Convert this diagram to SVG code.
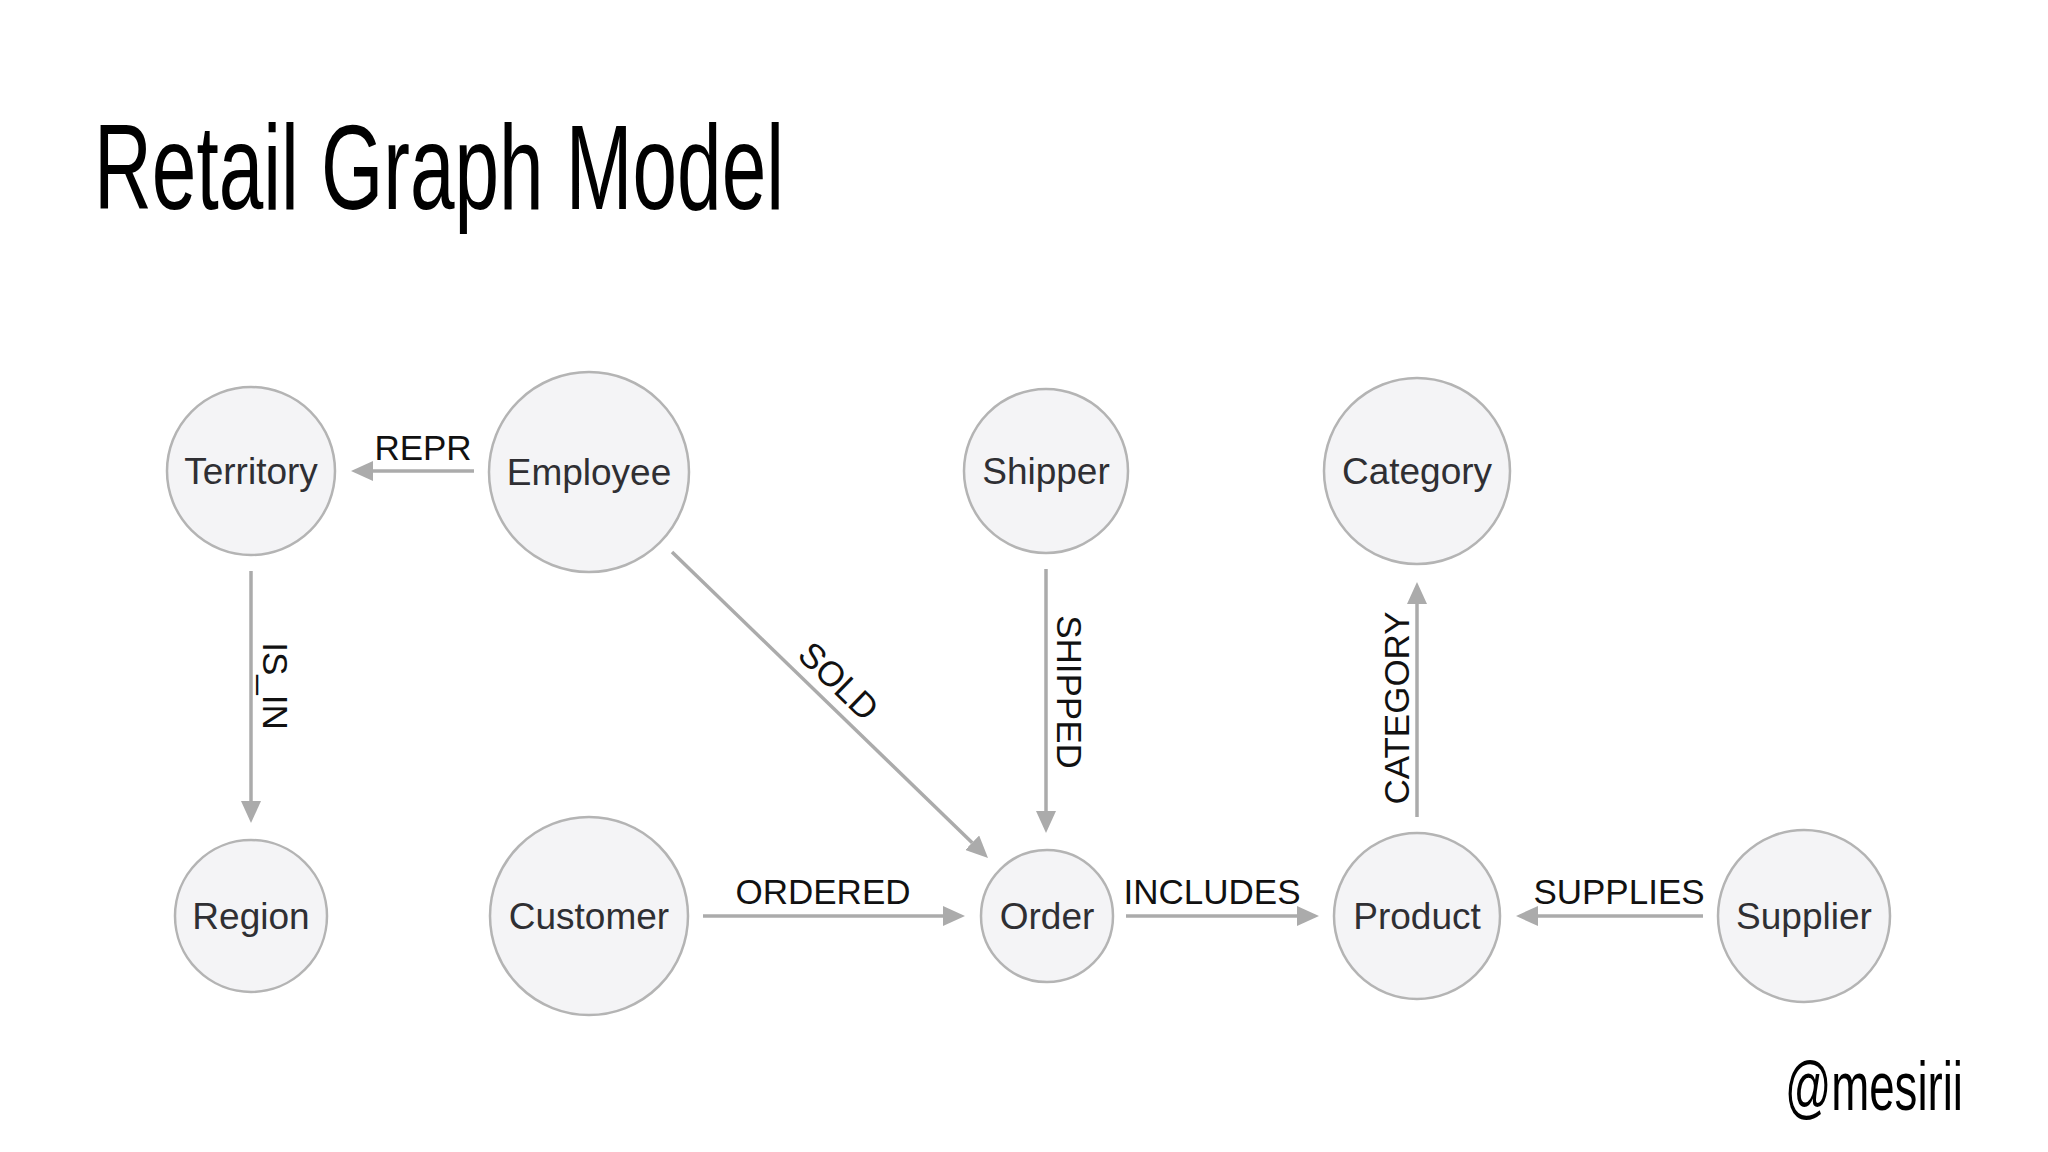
<svg xmlns="http://www.w3.org/2000/svg" width="2048" height="1152" viewBox="0 0 2048 1152">
  <style>
    .node circle { fill: #f4f4f6; stroke: #b4b4b4; stroke-width: 2.5; }
    .node text { font-family: "Liberation Sans", Arial, sans-serif; font-size: 37px; fill: #2f2f33; text-anchor: middle; }
    .edge line { stroke: #ababab; stroke-width: 3.5; fill: none; }
    .elabel { font-family: "Liberation Sans", Arial, sans-serif; font-size: 35px; fill: #111; text-anchor: middle; }
    .title { font-family: "Liberation Sans Narrow", "Liberation Sans", sans-serif; fill: #000; }
  </style>
  <defs>
    <marker id="arrow" markerUnits="userSpaceOnUse" markerWidth="22" markerHeight="20" refX="0" refY="10" orient="auto" viewBox="0 0 22 20">
      <path d="M0,0 L22,10 L0,20 z" fill="#ababab"/>
    </marker>
  </defs>
  <rect x="0" y="0" width="2048" height="1152" fill="#ffffff"/>

  <text class="title" x="94" y="209" font-size="121" textLength="690" lengthAdjust="spacingAndGlyphs">Retail Graph Model</text>

  <g id="connectors">
    <g class="edge" id="e-repr">
      <line x1="474" y1="471" x2="373" y2="471" marker-end="url(#arrow)"/>
      <text class="elabel" x="423" y="460">REPR</text>
    </g>
    <g class="edge" id="e-isin">
      <line x1="251" y1="571" x2="251" y2="801" marker-end="url(#arrow)"/>
      <text class="elabel" transform="translate(263,686) rotate(90)" x="0" y="0">IS_IN</text>
    </g>
    <g class="edge" id="e-sold">
      <line x1="672" y1="552" x2="972.2" y2="842.7" marker-end="url(#arrow)"/>
      <text class="elabel" transform="translate(822.5,697.7) rotate(44.1)" x="0" y="-11">SOLD</text>
    </g>
    <g class="edge" id="e-shipped">
      <line x1="1046" y1="569" x2="1046" y2="811" marker-end="url(#arrow)"/>
      <text class="elabel" transform="translate(1057,692) rotate(90)" x="0" y="0">SHIPPED</text>
    </g>
    <g class="edge" id="e-category">
      <line x1="1417" y1="817" x2="1417" y2="604" marker-end="url(#arrow)"/>
      <text class="elabel" transform="translate(1409,708) rotate(-90)" x="0" y="0">CATEGORY</text>
    </g>
    <g class="edge" id="e-ordered">
      <line x1="703" y1="916" x2="943" y2="916" marker-end="url(#arrow)"/>
      <text class="elabel" x="823" y="904">ORDERED</text>
    </g>
    <g class="edge" id="e-includes">
      <line x1="1126" y1="916" x2="1297" y2="916" marker-end="url(#arrow)"/>
      <text class="elabel" x="1212" y="904">INCLUDES</text>
    </g>
    <g class="edge" id="e-supplies">
      <line x1="1703" y1="916" x2="1538" y2="916" marker-end="url(#arrow)"/>
      <text class="elabel" x="1619" y="904">SUPPLIES</text>
    </g>
  </g>

  <g class="node" id="n-territory"><circle cx="251" cy="471" r="84"/><text x="251" y="484">Territory</text></g>
  <g class="node" id="n-employee"><circle cx="589" cy="472" r="100"/><text x="589" y="485">Employee</text></g>
  <g class="node" id="n-shipper"><circle cx="1046" cy="471" r="82"/><text x="1046" y="484">Shipper</text></g>
  <g class="node" id="n-category"><circle cx="1417" cy="471" r="93"/><text x="1417" y="484">Category</text></g>
  <g class="node" id="n-region"><circle cx="251" cy="916" r="76"/><text x="251" y="929">Region</text></g>
  <g class="node" id="n-customer"><circle cx="589" cy="916" r="99"/><text x="589" y="929">Customer</text></g>
  <g class="node" id="n-order"><circle cx="1047" cy="916" r="66"/><text x="1047" y="929">Order</text></g>
  <g class="node" id="n-product"><circle cx="1417" cy="916" r="83"/><text x="1417" y="929">Product</text></g>
  <g class="node" id="n-supplier"><circle cx="1804" cy="916" r="86"/><text x="1804" y="929">Supplier</text></g>

  <text class="title" x="1785" y="1110" font-size="68" textLength="178" lengthAdjust="spacingAndGlyphs">@mesirii</text>
</svg>
